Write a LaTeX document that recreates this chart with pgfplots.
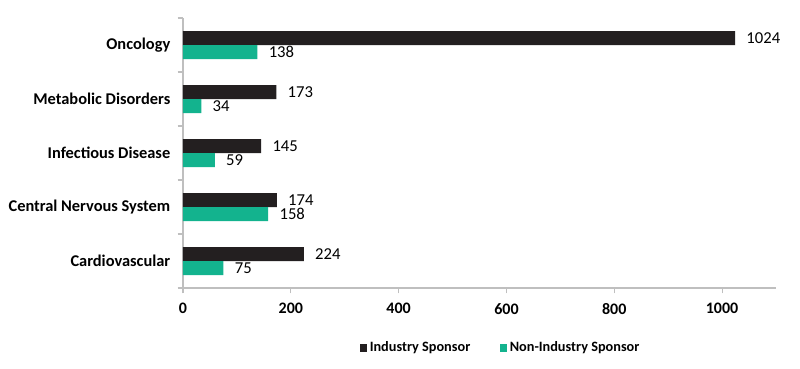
\documentclass[border=0pt]{standalone}
\usepackage{fontspec}
\setmainfont{Carlito}
\usepackage{pgfplots}
\pgfplotsset{compat=1.18}
\definecolor{ind}{HTML}{231F20}
\definecolor{non}{HTML}{13B38E}
\definecolor{axgray}{HTML}{BFBFBF}
\begin{document}
\begin{tikzpicture}
\begin{axis}[
  at={(0,0)}, anchor=south west,
  scale only axis, width=444.75pt, height=202.5pt,
  xbar, bar width=10.5pt,
  xmin=0, xmax=1100, ymin=-0.5, ymax=4.5,
  xtick={0,200,400,600,800,1000},
  ytick={0,1,2,3,4},
  yticklabels={Cardiovascular, Central Nervous System, Infectious Disease, Metabolic Disorders, Oncology},
  extra y ticks={-0.5,0.5,1.5,2.5,3.5,4.5},
  extra y tick labels={},
  extra y tick style={ytick style={draw=axgray, line width=0.8pt}},
  major tick length=4pt,
  axis x line*=bottom, axis y line*=left,
  axis line style={-, axgray, line width=1pt},
  tick align=outside,
  xtick style={axgray, line width=0.8pt},
  ytick style={draw=none},
  xticklabel style={font=\bfseries\fontsize{12}{14}\selectfont, text=black, yshift=-4pt},
  yticklabel style={font=\bfseries\fontsize{12.3}{14}\selectfont, text=black, xshift=-2pt},
  /pgf/number format/assume math mode=true,
  /pgf/number format/1000 sep={},
  nodes near coords,
  nodes near coords style={anchor=west, font=\fontsize{12.5}{14}\selectfont, text=black, xshift=5pt, /pgf/number format/1000 sep={}},
  legend style={at={(0.536,-0.222)}, anchor=center, draw=none, legend columns=2,
    font=\bfseries\fontsize{10.7}{12}\selectfont,
    /tikz/every even column/.append style={column sep=20pt}},
  legend image code/.code={\fill[#1] (0pt,-2.8pt) rectangle (5.6pt,2.8pt);},
]
\addplot[draw=none, fill=ind, bar shift=5.25pt] coordinates {(224,0) (174,1) (145,2) (173,3) (1024,4)};
\addlegendentry{Industry Sponsor}
\addplot[draw=none, fill=non, bar shift=-5.25pt] coordinates {(75,0) (158,1) (59,2) (34,3) (138,4)};
\addlegendentry{Non-Industry Sponsor}
\end{axis}
\pgfresetboundingbox
\path[use as bounding box] (-137.25pt,-60pt) rectangle (462.75pt,216pt);
\end{tikzpicture}
\end{document}
